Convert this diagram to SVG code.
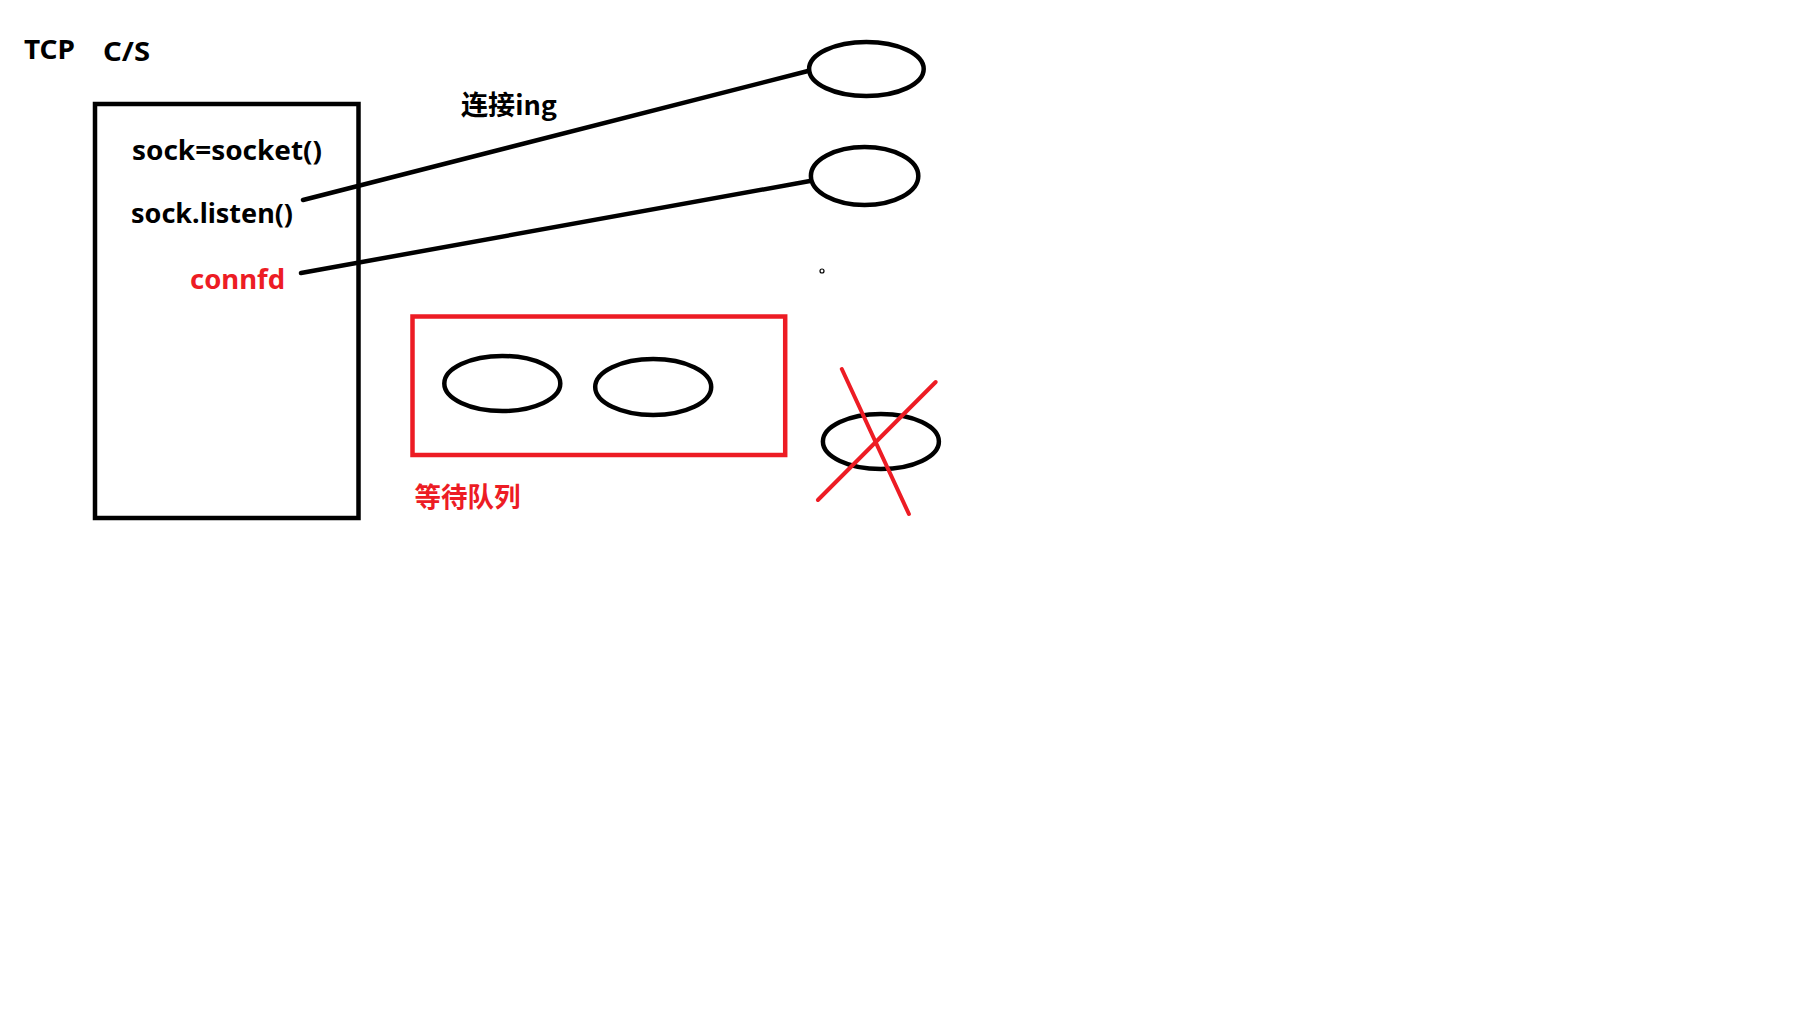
<svg xmlns="http://www.w3.org/2000/svg" width="1812" height="1020" viewBox="0 0 1812 1020">
<style>
.t{font-family:"Noto Sans","Noto Sans CJK SC",sans-serif;font-weight:bold;font-size:27px;fill:#000}
.cj{font-family:"Noto Sans CJK SC","Noto Sans",sans-serif;font-weight:bold;font-size:27px}
.red{fill:#ED1C24}
.blk{fill:none;stroke:#000;stroke-width:4.5}
.rs{fill:none;stroke:#ED1C24;stroke-width:4.5}
.ln{stroke:#000;stroke-width:4.5;stroke-linecap:round;fill:none}
.rl{stroke:#ED1C24;stroke-width:4;stroke-linecap:round;fill:none}
</style>
<rect width="1812" height="1020" fill="#fff"/>
<g id="title">
<text class="t" x="24" y="59" textLength="51" lengthAdjust="spacingAndGlyphs">TCP</text>
<text class="t" x="103" y="61" textLength="47" lengthAdjust="spacingAndGlyphs">C/S</text>
</g>
<g id="server">
<rect class="blk" x="95" y="104" width="263.5" height="414"/>
<text class="t" x="132" y="160" textLength="190" lengthAdjust="spacingAndGlyphs">sock=socket()</text>
<text class="t" x="131" y="223" textLength="162" lengthAdjust="spacingAndGlyphs">sock.listen()</text>
<text class="t red" x="190" y="289" textLength="95" lengthAdjust="spacingAndGlyphs">connfd</text>
</g>
<g id="connectors">
<line class="ln" x1="303" y1="200" x2="808" y2="71"/>
<line class="ln" x1="301" y1="273" x2="810" y2="181"/>
</g>
<g id="label-connecting">
<text class="cj" x="461" y="115" textLength="96" lengthAdjust="spacingAndGlyphs">连接ing</text>
</g>
<g id="client1"><ellipse class="blk" cx="866.4" cy="69" rx="57.3" ry="27"/></g>
<g id="client2"><ellipse class="blk" cx="864.6" cy="176" rx="53.7" ry="29"/></g>
<g id="dot"><circle cx="822" cy="271" r="2" fill="none" stroke="#000" stroke-width="1.2"/></g>
<g id="queue">
<rect class="rs" x="412.5" y="316.5" width="372.7" height="138.5"/>
<ellipse class="blk" cx="502.3" cy="383.5" rx="58" ry="27.5"/>
<ellipse class="blk" cx="653.2" cy="387" rx="58" ry="28"/>
<text class="cj red" x="414.5" y="507" textLength="106" lengthAdjust="spacingAndGlyphs">等待队列</text>
</g>
<g id="rejected">
<ellipse class="blk" cx="880.9" cy="441.5" rx="58" ry="27.5"/>
<line class="rl" x1="841.8" y1="369" x2="908.9" y2="514"/>
<line class="rl" x1="935.7" y1="382" x2="817.9" y2="500"/>
</g>
</svg>
